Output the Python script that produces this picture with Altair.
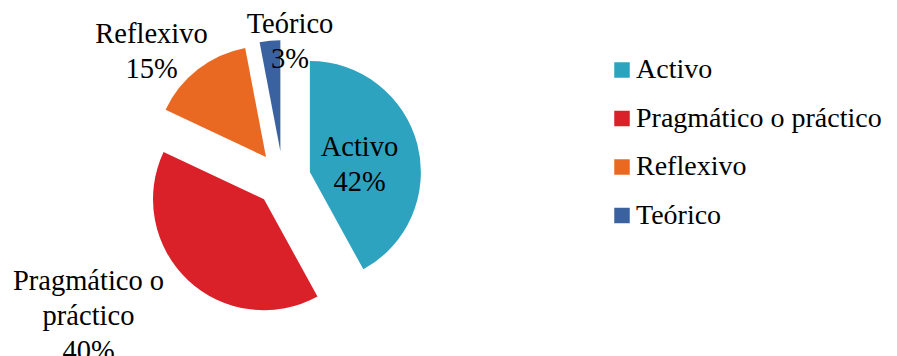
import textwrap
import altair as alt
import pandas as pd

# ---- data ----
categories = ["Activo", "Pragmático o práctico", "Reflexivo", "Teórico"]
values = [42, 40, 15, 3]

# ---- style / layout ----
colors = ["#2DA3C0", "#DA2029", "#EA6922", "#3A62A0"]
W, H = 881, 348
CX, CY = 275, 171          # pie centre (px)
R = 111                    # pie radius (px)
EXPLODE = 0.25 * R         # explosion distance
label_dx = [76.5, -194.5, -131.5, 7]     # label anchor offsets from pie centre
label_dy = [-23, 111, -136, -146]
LINE_H = 35
FONT = "Liberation Serif"
FS = 28.5
LEG_FS = 28

df = pd.DataFrame({
    "category": categories,
    "value": values,
    "order": list(range(len(categories))),
    "wrapped": ["|".join(textwrap.wrap(c, 12)) for c in categories],
    "ldx": label_dx,
    "ldy": label_dy,
})

base = alt.Chart(df).transform_joinaggregate(
    total="sum(value)"
).transform_window(
    cum="sum(value)", sort=[alt.SortField("order")], frame=[None, 0]
).transform_calculate(
    t1="2*PI*datum.cum/datum.total",
    t0="2*PI*(datum.cum-datum.value)/datum.total",
    mid="(datum.t0+datum.t1)/2",
    cx=f"{CX}+{EXPLODE}*sin(datum.mid)",
    cy=f"{CY}-{EXPLODE}*cos(datum.mid)",
    lx=f"{CX}+datum.ldx",
    ly=f"{CY}+datum.ldy",
    lines="split(datum.wrapped + '|' + format(datum.value/datum.total, '.0%'), '|')",
)

arcs = base.mark_arc(outerRadius=R, innerRadius=0).encode(
    x=alt.X("cx:Q", scale=None, axis=None),
    y=alt.Y("cy:Q", scale=None, axis=None),
    theta=alt.Theta("t0:Q", scale=None),
    theta2=alt.Theta2("t1"),
    color=alt.Color(
        "category:N",
        scale=alt.Scale(domain=categories, range=colors),
        sort=categories,
        legend=alt.Legend(
            title=None,
            orient="none",
            legendX=600,
            legendY=48,
            symbolType="square",
            symbolSize=240,
            symbolStrokeWidth=0,
            labelFont=FONT,
            labelFontSize=LEG_FS,
            labelColor="black",
            labelOffset=0,
            rowPadding=20.5,
            padding=0,
            labelLimit=400,
        ),
    ),
)

labels = base.mark_text(
    font=FONT, fontSize=FS, lineHeight=LINE_H, align="center",
    baseline="alphabetic", color="black",
).encode(
    x=alt.X("lx:Q", scale=None, axis=None),
    y=alt.Y("ly:Q", scale=None, axis=None),
    text="lines:N",
)

chart = alt.layer(arcs, labels).properties(
    width=W, height=H, autosize=alt.AutoSizeParams(type="none"), padding=0,
).configure_view(stroke=None)

chart.save("out.html", embed_options={"renderer": "svg", "actions": False})
